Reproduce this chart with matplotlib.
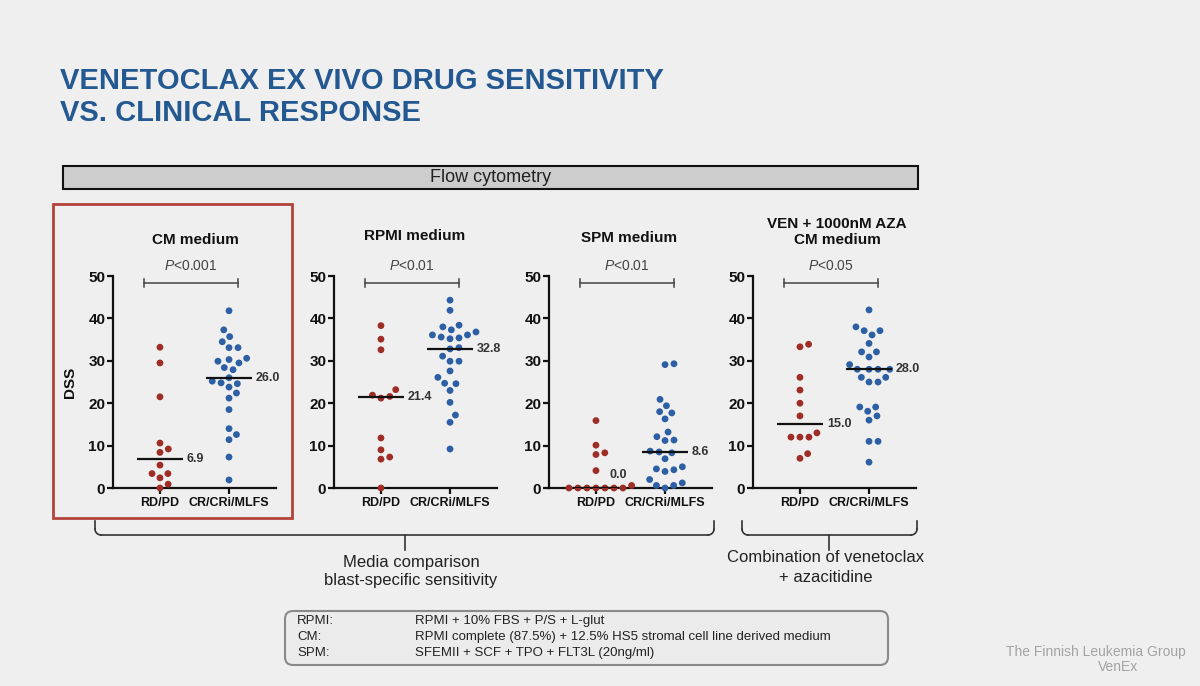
import numpy as np
import matplotlib
matplotlib.use("Agg")
import matplotlib.pyplot as plt
from matplotlib import font_manager as fm
from matplotlib.patches import FancyBboxPatch, Rectangle

# ---------------- data ----------------
panel_titles = ["CM medium", "RPMI medium", "SPM medium", "VEN + 1000nM AZA\nCM medium"]
p_labels = ["0.001", "0.01", "0.01", "0.05"]
categories = ["RD/PD", "CR/CRi/MLFS"]

cm_rdpd = [33.2, 29.5, 21.5, 10.6, 9.2, 8.4, 5.4, 3.4, 3.4, 2.4, 0.9, 0.0]
cm_cr = [41.8, 37.3, 35.7, 34.5, 33.1, 33.1, 30.6, 30.3, 29.9, 29.5, 28.4, 27.9,
         26.0, 25.2, 24.8, 24.6, 23.8, 22.4, 21.2, 18.5, 14.0, 12.6, 11.4, 7.3, 1.9]

rpmi_rdpd = [38.3, 35.1, 32.6, 23.2, 21.9, 21.6, 21.2, 11.8, 9.0, 7.3, 6.8, 0.0]
rpmi_cr = [44.3, 41.9, 38.4, 38.0, 37.3, 36.8, 36.1, 36.1, 35.6, 35.4, 35.2, 33.1,
           32.8, 31.1, 29.9, 29.9, 27.6, 26.1, 24.7, 24.6, 23.0, 20.2, 17.2, 15.5, 9.2]

spm_rdpd = [15.9, 10.1, 8.3, 7.9, 4.1, 0.6, 0.0, 0.0, 0.0, 0.0, 0.0, 0.0, 0.0]
spm_cr = [29.3, 29.1, 20.9, 19.4, 18.0, 17.7, 16.3, 13.2, 12.1, 11.3, 11.2, 8.7,
          8.5, 8.3, 6.9, 5.0, 4.5, 4.3, 3.9, 2.0, 1.2, 0.6, 0.6, 0.0]

aza_rdpd = [33.9, 33.3, 26.1, 23.1, 20.0, 17.0, 13.0, 12.0, 12.0, 12.0, 8.1, 7.0]
aza_cr = [42.0, 38.0, 37.1, 37.1, 36.1, 34.1, 32.1, 32.1, 30.9, 29.1, 28.0, 28.0,
          28.0, 28.0, 26.1, 26.1, 25.0, 25.0, 19.1, 19.1, 18.1, 17.0, 16.0, 11.0,
          11.0, 6.1]

groups = [(cm_rdpd, cm_cr), (rpmi_rdpd, rpmi_cr), (spm_rdpd, spm_cr), (aza_rdpd, aza_cr)]

media_rows = [("RPMI:", "RPMI + 10% FBS + P/S + L-glut"),
              ("CM:", "RPMI complete (87.5%) + 12.5% HS5 stromal cell line derived medium"),
              ("SPM:", "SFEMII + SCF + TPO + FLT3L (20ng/ml)")]

# ---------------- style ----------------
names = {f.name for f in fm.fontManager.ttflist}
BASE = "Liberation Sans" if "Liberation Sans" in names else "DejaVu Sans"
NARROW = "Liberation Sans Narrow" if "Liberation Sans Narrow" in names else BASE
plt.rcParams["font.family"] = [BASE, "DejaVu Sans"]
plt.rcParams["mathtext.fontset"] = "custom"
plt.rcParams["mathtext.rm"] = BASE
plt.rcParams["mathtext.it"] = BASE + ":italic"

BG = "#efefef"
RED = "#9e2d25"
BLUE = "#2c5fa3"
TITLE_BLUE = "#245891"
W, H = 1200, 686

fig = plt.figure(figsize=(12, 6.86), dpi=100, facecolor=BG)

# overlay axes in pixel coordinates
ov = fig.add_axes([0, 0, 1, 1], zorder=0)
ov.set_xlim(0, W)
ov.set_ylim(H, 0)
ov.axis("off")

# title
title_size = 24 if NARROW != BASE else 21
ov.text(60, 89, "VENETOCLAX EX VIVO DRUG SENSITIVITY", family=NARROW, weight="bold",
        fontsize=title_size, color=TITLE_BLUE, va="baseline", ha="left")
ov.text(60, 121, "VS. CLINICAL RESPONSE", family=NARROW, weight="bold",
        fontsize=title_size, color=TITLE_BLUE, va="baseline", ha="left")

# flow cytometry bar
ov.add_patch(Rectangle((63, 166), 855, 23, facecolor="#cdcdcd", edgecolor="#111111", lw=1.5))
ov.text(491, 178, "Flow cytometry", fontsize=13, color="#222222", ha="center", va="center")

# red highlight box
ov.add_patch(Rectangle((53, 204), 239, 314, facecolor="none", edgecolor="#b4433a", lw=2))

# panel geometry (pixels)
panel_left = [113, 334, 549, 753]
panel_w = 163
y0_px, y50_px = 488, 276
title_x = [195, 415, 629, 837]
title_y = [240, 236, 238, 232]

XL, XR = -0.68, 1.68
xpx = panel_w / (XR - XL)
ypx = (y0_px - y50_px) / 50.0
D = 9.0  # min distance between dot centres in pixels


def swarm(vals):
    vals = np.asarray(vals, float)
    order = np.argsort(vals, kind="stable")
    placed = []
    off = np.zeros(len(vals))
    for i in order:
        y = vals[i] * ypx
        cands = [0.0]
        for (px, py) in placed:
            dy = y - py
            if abs(dy) < D:
                dx = np.sqrt(D ** 2 - dy ** 2)
                cands += [px + dx, px - dx]
        cands.sort(key=abs)
        for c in cands:
            if all((c - px) ** 2 + (y - py) ** 2 >= D ** 2 - 1e-6 for px, py in placed):
                break
        placed.append((c, y))
        off[i] = c / xpx
    return off


for k in range(4):
    ax = fig.add_axes([panel_left[k] / W, 1 - y0_px / H, panel_w / W, (y0_px - y50_px) / H], zorder=2)
    ax.set_facecolor("none")
    ax.set_xlim(XL, XR)
    ax.set_ylim(0, 50)
    for s in ("top", "right"):
        ax.spines[s].set_visible(False)
    for s in ("left", "bottom"):
        ax.spines[s].set_linewidth(1.6)
        ax.spines[s].set_color("#111111")
    ax.set_yticks([0, 10, 20, 30, 40, 50])
    ax.set_xticks([0, 1])
    ax.set_xticklabels(categories)
    ax.tick_params(axis="y", length=4, width=1.6, pad=1.5, labelsize=11, colors="#111111")
    ax.tick_params(axis="x", length=4, width=1.6, pad=2.5, labelsize=9, colors="#111111")
    for lab in ax.get_yticklabels() + ax.get_xticklabels():
        lab.set_fontweight("bold")

    for j, (vals, col) in enumerate(zip(groups[k], (RED, BLUE))):
        vals = np.asarray(vals, float)
        xs = j + swarm(vals)
        ax.scatter(xs, vals, s=24, color=col, edgecolors="none", zorder=3, clip_on=False)
        med = float(np.median(vals))
        ax.plot([j - 0.33, j + 0.33], [med, med], color="#111111", lw=1.6, zorder=4,
                solid_capstyle="butt")
        if med < 2:
            lx, ly = j + 0.2, med + 3.0
        else:
            lx, ly = j + 0.39, med
        ax.text(lx, ly, f"{med:.1f}", fontsize=9, weight="bold", color="#333333",
                ha="left", va="center", zorder=5)

    # significance bracket
    bx0, bx1, by = -0.23, 1.13, 48.4
    ax.plot([bx0, bx1], [by, by], color="#444444", lw=1.1, clip_on=False)
    for bx in (bx0, bx1):
        ax.plot([bx, bx], [by - 0.9, by + 0.9], color="#444444", lw=1.1, clip_on=False)
    ax.text((bx0 + bx1) / 2, 52.4, r"$\it{P}$<" + p_labels[k], fontsize=10, color="#444444",
            ha="center", va="center", clip_on=False)

    if k == 0:
        ax.set_ylabel("DSS", fontsize=11, weight="bold", labelpad=8, color="#111111")

    ov.text(title_x[k], title_y[k], panel_titles[k], fontsize=11, weight="bold",
            color="#111111", ha="center", va="center", linespacing=1.25)

# bottom braces
def brace(x0, x1, xc, ytop=521, ymid=535, ybot=550):
    r = 6
    ov.plot([x0, x0], [ytop, ymid - r], color="#333333", lw=1.2)
    ov.plot([x1, x1], [ytop, ymid - r], color="#333333", lw=1.2)
    t = np.linspace(0, np.pi / 2, 12)
    ov.plot(x0 + r - r * np.cos(t), ymid - r + r * np.sin(t), color="#333333", lw=1.2)
    ov.plot(x1 - r + r * np.cos(t), ymid - r + r * np.sin(t), color="#333333", lw=1.2)
    ov.plot([x0 + r, x1 - r], [ymid, ymid], color="#333333", lw=1.2)
    ov.plot([xc, xc], [ymid, ybot], color="#333333", lw=1.2)

brace(95, 714, 405)
brace(742, 917, 829)
ov.text(411, 562, "Media comparison", fontsize=12, color="#222222", ha="center", va="center")
ov.text(411, 581, "blast-specific sensitivity", fontsize=12, color="#222222", ha="center", va="center")
ov.text(826, 558, "Combination of venetoclax", fontsize=12, color="#222222", ha="center", va="center")
ov.text(826, 578, "+ azacitidine", fontsize=12, color="#222222", ha="center", va="center")

# media definition box
ov.add_patch(FancyBboxPatch((285, 611), 603, 54, boxstyle="round,pad=0,rounding_size=8",
                            facecolor="#ebebeb", edgecolor="#8a8a8a", lw=1.5))
for i, (a, b) in enumerate(media_rows):
    yy = 621 + 16 * i
    ov.text(297, yy, a, fontsize=9.5, color="#222222", ha="left", va="center")
    ov.text(415, yy, b, fontsize=9.5, color="#222222", ha="left", va="center")

# footer
ov.text(1186, 652, "The Finnish Leukemia Group", fontsize=10, color="#a3a3a3", ha="right", va="center")
ov.text(1118, 667, "VenEx", fontsize=10, color="#a3a3a3", ha="center", va="center")

fig.savefig("out.png", dpi=100, facecolor=BG)
